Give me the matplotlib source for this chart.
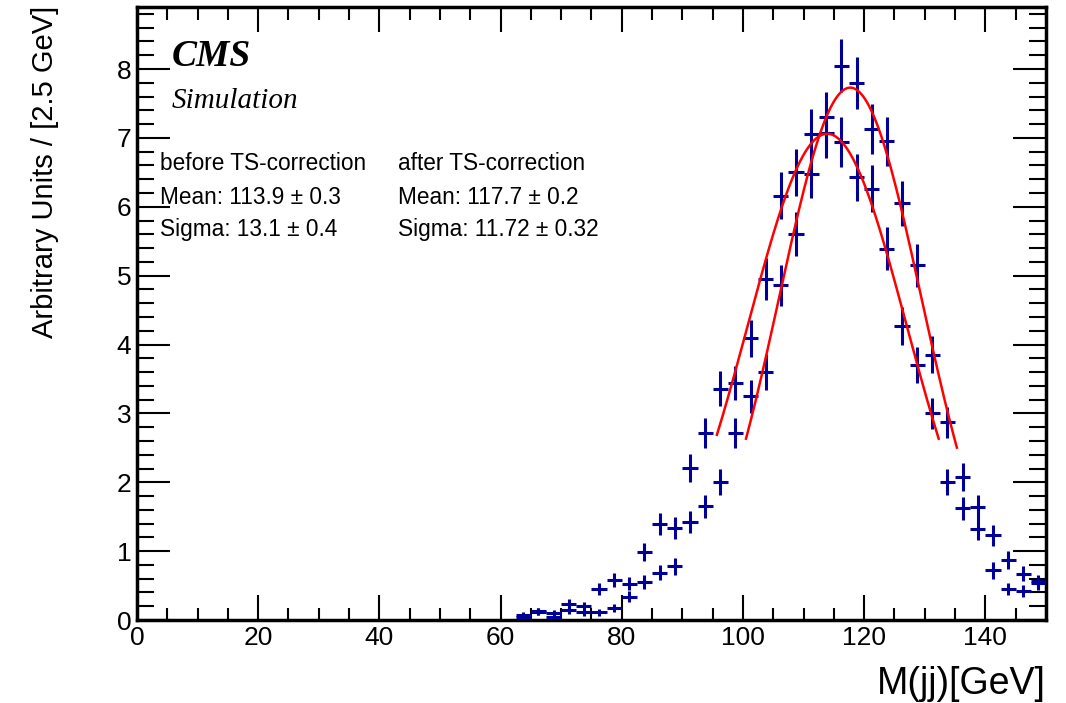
import numpy as np
import matplotlib
matplotlib.use("Agg")
import matplotlib.pyplot as plt
from matplotlib.ticker import MultipleLocator

plt.rcParams["font.family"] = ["Liberation Sans", "DejaVu Sans"]

# bin centres, 2.5 GeV bins
mjj = [63.75, 66.25, 68.75, 71.25, 73.75, 76.25, 78.75, 81.25, 83.75, 86.25,
       88.75, 91.25, 93.75, 96.25, 98.75, 101.25, 103.75, 106.25, 108.75, 111.25,
       113.75, 116.25, 118.75, 121.25, 123.75, 126.25, 128.75, 131.25, 133.75, 136.25,
       138.75, 141.25, 143.75, 146.25, 148.75]

# before TS-correction
before = [0.07, 0.13, 0.10, 0.23, 0.20, 0.45, 0.58, 0.53, 0.99, 1.39,
          1.33, 2.21, 2.72, 3.36, 3.44, 4.09, 4.95, 6.16, 6.50, 7.06,
          7.07, 6.94, 6.43, 6.26, 5.39, 4.27, 3.70, 3.00, 2.01, 1.62,
          1.32, 0.72, 0.45, 0.42, 0.54]
before_err = [0.04, 0.05, 0.04, 0.07, 0.06, 0.09, 0.10, 0.10, 0.13, 0.16,
              0.16, 0.20, 0.22, 0.25, 0.25, 0.27, 0.30, 0.34, 0.34, 0.36,
              0.36, 0.36, 0.34, 0.34, 0.31, 0.28, 0.26, 0.23, 0.19, 0.17,
              0.16, 0.12, 0.09, 0.09, 0.10]

# after TS-correction
after = [0.04, 0.12, 0.05, 0.14, 0.11, 0.11, 0.18, 0.34, 0.55, 0.69,
         0.78, 1.43, 1.65, 2.01, 2.72, 3.25, 3.60, 4.86, 5.61, 6.47,
         7.30, 8.05, 7.80, 7.13, 6.95, 6.05, 5.15, 3.85, 2.87, 2.08,
         1.64, 1.23, 0.87, 0.67, 0.56]
after_err = [0.03, 0.05, 0.03, 0.05, 0.05, 0.05, 0.06, 0.08, 0.10, 0.11,
             0.12, 0.16, 0.17, 0.19, 0.22, 0.24, 0.26, 0.30, 0.32, 0.34,
             0.37, 0.38, 0.38, 0.36, 0.36, 0.33, 0.31, 0.27, 0.23, 0.20,
             0.17, 0.15, 0.13, 0.11, 0.10]

# gaussian fits: amplitude, mean, sigma, fit range
fit_before = (7.06, 113.9, 13.1, 95.7, 132.3)
fit_after = (7.73, 117.7, 11.72, 100.5, 135.3)

stats_before = ["before TS-correction", "Mean: 113.9 \u00b1 0.3", "Sigma: 13.1 \u00b1 0.4"]
stats_after = ["after TS-correction", "Mean: 117.7 \u00b1 0.2", "Sigma: 11.72 \u00b1 0.32"]

blue = "#000099"

fig = plt.figure(figsize=(10.66, 7.03), dpi=100)
ax = fig.add_axes([0.1285, 0.118, 0.8527, 0.872])

for y, e in [(before, before_err), (after, after_err)]:
    ax.errorbar(mjj, y, yerr=e, xerr=1.25, fmt="none", ecolor=blue,
                elinewidth=2.2, capsize=0, zorder=3)

for amp, mu, sig, lo, hi in [fit_before, fit_after]:
    xx = np.linspace(lo, hi, 200)
    ax.plot(xx, amp * np.exp(-0.5 * ((xx - mu) / sig) ** 2), color="red", lw=1.8, zorder=4)

ax.set_xlim(0, 150)
ax.set_ylim(0, 8.9)
ax.xaxis.set_major_locator(MultipleLocator(20))
ax.xaxis.set_minor_locator(MultipleLocator(5))
ax.yaxis.set_major_locator(MultipleLocator(1))
ax.yaxis.set_minor_locator(MultipleLocator(0.2))
ax.tick_params(which="both", direction="in", top=True, right=True, width=1.5)
ax.tick_params(which="major", length=18, labelsize=19, pad=4)
ax.tick_params(axis="y", which="major", length=24)
ax.tick_params(axis="y", which="minor", length=12)
ax.tick_params(axis="x", which="minor", length=9)
for s in ax.spines.values():
    s.set_linewidth(2.5)

ax.set_xlabel("M(jj)[GeV]", fontsize=27, loc="right")
ax.xaxis.set_label_coords(1.0, -0.075)
ax.set_ylabel("Arbitrary Units / [2.5 GeV]", fontsize=21, loc="top")
ax.yaxis.set_label_coords(-0.086, 1.002)

ax.text(0.038, 0.948, "CMS", transform=ax.transAxes, fontsize=27,
        family="Liberation Serif", weight="bold", style="italic", va="top")
ax.text(0.038, 0.868, "Simulation", transform=ax.transAxes, fontsize=21,
        family="Liberation Serif", style="italic", va="top")

rows_y = [163, 197, 229]
for i, (a, b) in enumerate(zip(stats_before, stats_after)):
    yy = 1 - (rows_y[i] - 7) / 613
    ax.text(0.0253, yy, a, transform=ax.transAxes, fontsize=16.3, va="center")
    ax.text(0.2871, yy, b, transform=ax.transAxes, fontsize=16.3, va="center")

fig.savefig("out.png", dpi=100)
